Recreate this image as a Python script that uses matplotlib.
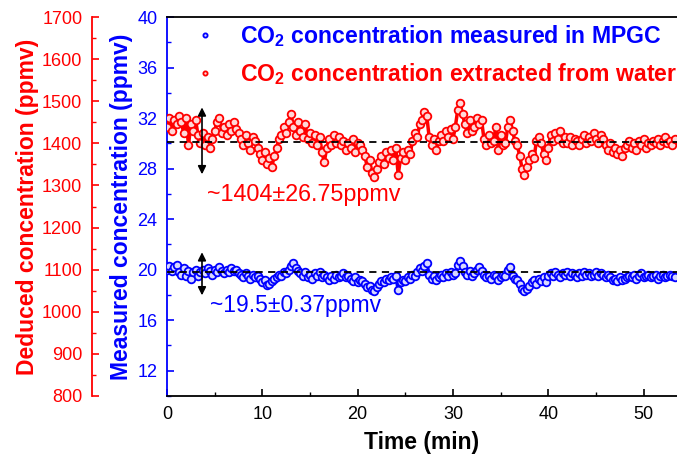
import numpy as np
import matplotlib
matplotlib.use("Agg")
import matplotlib.pyplot as plt
from matplotlib.ticker import MultipleLocator

plt.rcParams['font.family'] = ['Liberation Sans', 'DejaVu Sans']
plt.rcParams['mathtext.fontset'] = 'custom'
plt.rcParams['mathtext.rm'] = 'Liberation Sans'
plt.rcParams['mathtext.bf'] = 'Liberation Sans:bold'

# sampling step of the record (min)
step = 0.25

# CO2 measured in MPGC (ppmv)
measured = [
    20.0, 20.3, 19.9, 20.2, 20.4, 19.8,
    19.6, 20.1, 19.5, 19.9, 19.3, 19.8, 20.0, 19.5,
    19.8, 20.0, 19.7, 20.1, 19.9, 19.6, 20.0, 19.8, 20.2, 19.9, 19.7, 20.0, 19.8, 20.1, 19.9, 20.0, 19.7,
    19.6, 19.4, 19.7, 19.5, 19.3, 19.6, 19.4, 19.5,
    19.3, 19.0, 19.2, 18.8, 18.9, 19.1, 19.3,
    19.4, 19.6, 19.5, 19.8, 19.7, 20.0, 20.3, 20.5, 20.1, 19.9,
    19.7, 19.5, 19.8, 19.4, 19.6, 19.3, 19.7, 19.5, 19.8, 19.4, 19.6,
    19.4, 19.2, 19.5, 19.3, 19.6, 19.4, 19.5, 19.7, 19.4, 19.5,
    19.3, 19.1, 19.4, 19.0, 19.2, 19.1,
    18.9, 18.6, 18.7, 18.4, 18.3, 18.6,
    18.9, 19.1, 19.0, 19.3, 19.2, 19.4, 19.3, 19.5,
    18.4,
    19.0, 19.2, 19.1, 19.4, 19.3, 19.6, 19.5,
    19.8, 20.1, 19.9, 20.3, 20.5,
    19.6, 19.3, 19.5, 19.2, 19.4,
    19.6, 19.4, 19.7, 19.5, 19.8, 19.6, 19.7,
    20.4, 20.7, 20.3,
    19.8, 19.6, 19.9, 19.5, 19.7,
    20.0, 20.2, 19.9,
    19.6, 19.4, 19.5, 19.3, 19.6, 19.5, 19.2, 19.4, 19.6, 19.5,
    20.0, 20.2,
    19.5, 19.3, 19.2,
    18.9, 18.5, 18.3, 18.5, 18.7,
    19.0, 19.2, 18.9, 19.3, 19.1,
    19.4, 19.0, 19.5,
    19.7, 19.5, 19.8, 19.6, 19.4, 19.7, 19.6, 19.8, 19.5, 19.7, 19.6, 19.4, 19.7,
    19.5, 19.8, 19.6, 19.7, 19.5, 19.6, 19.8, 19.5, 19.7, 19.6, 19.4, 19.6,
    19.4, 19.2, 19.3, 19.1, 19.4, 19.2, 19.3, 19.4,
    19.5, 19.4, 19.6, 19.3, 19.5, 19.7, 19.4, 19.5, 19.6, 19.4,
    19.5, 19.6, 19.3, 19.5, 19.6, 19.4, 19.5, 19.6, 19.5, 19.4,
]

# CO2 deduced for the water sample (ppmv)
deduced = [
    1440, 1460, 1430, 1455, 1445, 1465,
    1450, 1425, 1460, 1395, 1445, 1430, 1455, 1420,
    1400, 1425, 1395, 1415, 1390, 1410,
    1430, 1450, 1460, 1425, 1440, 1420, 1445, 1430, 1450, 1435, 1425,
    1410, 1395, 1420, 1400, 1385, 1415, 1405,
    1390, 1375, 1360, 1380, 1350, 1365, 1345, 1370,
    1390, 1410, 1420, 1440, 1425, 1450,
    1470,
    1440, 1420, 1450, 1430, 1415, 1445,
    1410, 1425, 1400, 1420, 1395, 1415,
    1380, 1355, 1390,
    1410, 1395, 1420, 1400, 1415,
    1395, 1405, 1385, 1400, 1390, 1410, 1380, 1400, 1395, 1385,
    1370, 1345, 1360, 1330, 1320, 1340,
    1355, 1370, 1350, 1380, 1365, 1385, 1360, 1390,
    1325,
    1365, 1380, 1360, 1385, 1375,
    1405, 1425, 1415, 1445,
    1455, 1475, 1465,
    1415, 1395, 1410, 1385, 1405,
    1420, 1405, 1430, 1415, 1435, 1410, 1440,
    1480, 1495, 1470,
    1445, 1425, 1455, 1430, 1440,
    1460, 1445, 1455,
    1410, 1395, 1420, 1400, 1405,
    1440, 1385, 1420, 1395, 1400,
    1440, 1455, 1430,
    1405, 1395,
    1370, 1340, 1325, 1345, 1360,
    1375, 1365,
    1405, 1415, 1400,
    1375, 1360, 1390,
    1420, 1405, 1425, 1410, 1430, 1400, 1415,
    1400, 1415, 1395, 1410, 1405, 1395,
    1410, 1420, 1400, 1415, 1405, 1425, 1410, 1400, 1420, 1410,
    1395, 1385, 1400, 1380, 1390, 1375, 1385, 1370, 1390,
    1395, 1405, 1390, 1400, 1385, 1405, 1395, 1410, 1390, 1400, 1395,
    1405, 1400, 1410, 1395, 1405, 1415, 1400, 1405, 1395, 1410,
]

time = np.arange(len(measured)) * step

measured_ref = 19.8
deduced_ref = 1404
measured_text = "~19.5\u00b10.37ppmv"
deduced_text = "~1404\u00b126.75ppmv"

fig = plt.figure(figsize=(6.77, 4.61), dpi=100)
ax = fig.add_axes([0.2467, 0.141, 0.7533, 0.822])
ax2 = ax.twinx()

ax.plot(time, measured, '-', color='blue', lw=2.5, zorder=2)
l1, = ax.plot(time, measured, 'o', ms=5.5, mfc='#d8d8ff', mec='blue', mew=1.3, zorder=3,
              label=r'CO$_\mathbf{2}$ concentration measured in MPGC')
ax.axhline(measured_ref, color='black', ls='--', lw=1.3, dashes=(4, 3), zorder=5)

ax2.plot(time, deduced, '-', color='red', lw=2.5, zorder=2)
l2, = ax2.plot(time, deduced, 'o', ms=5.5, mfc='#ffd8d8', mec='red', mew=1.3, zorder=3,
               label=r'CO$_\mathbf{2}$ concentration extracted from water')
ax2.axhline(deduced_ref, color='black', ls='--', lw=1.3, dashes=(4, 3), zorder=5)

# error arrows
ax.annotate('', xy=(3.67, 21.6), xytext=(3.67, 17.75),
            arrowprops=dict(arrowstyle='<|-|>', color='black', lw=1.2, mutation_scale=12))
ax2.annotate('', xy=(3.67, 1492), xytext=(3.67, 1320),
             arrowprops=dict(arrowstyle='<|-|>', color='black', lw=1.2, mutation_scale=12))
ax.text(4.55, 17.2, measured_text, color='blue', fontsize=16.5, va='center', ha='left')
ax2.text(4.2, 1279, deduced_text, color='red', fontsize=16.8, va='center', ha='left')

ax.set_xlim(0, 53.5)
ax.set_ylim(10, 40)
ax2.set_ylim(800, 1700)

ax.xaxis.set_major_locator(MultipleLocator(10))
ax.xaxis.set_minor_locator(MultipleLocator(5))
ax.yaxis.set_minor_locator(MultipleLocator(2))
ax.set_yticks(np.arange(12, 41, 4))
ax2.yaxis.set_major_locator(MultipleLocator(100))
ax2.yaxis.set_minor_locator(MultipleLocator(50))

ax.spines['right'].set_visible(False)
ax.spines['left'].set_color('blue')
for s in ['top', 'bottom', 'left']:
    ax.spines[s].set_linewidth(1.3)
for s in ['top', 'bottom', 'right']:
    ax2.spines[s].set_visible(False)
ax2.spines['left'].set_visible(True)
ax2.spines['left'].set_position(('axes', -0.147))
ax2.spines['left'].set_color('red')
ax2.spines['left'].set_linewidth(1.3)
ax2.yaxis.tick_left()
ax2.yaxis.set_label_position('left')

ax.tick_params(axis='x', which='both', direction='in', top=False, labelsize=13, pad=7)
ax.tick_params(axis='x', which='major', length=5, width=1.2)
ax.tick_params(axis='x', which='minor', length=3, width=1.0)
ax.tick_params(axis='y', which='both', direction='in', colors='blue', labelsize=13, pad=7)
ax.tick_params(axis='y', which='major', length=5, width=1.2)
ax.tick_params(axis='y', which='minor', length=3, width=1.0)
ax2.tick_params(axis='y', which='both', direction='in', colors='red', labelsize=13, pad=7,
                left=True, right=False, labelleft=True, labelright=False)
ax2.tick_params(axis='y', which='major', length=5, width=1.2)
ax2.tick_params(axis='y', which='minor', length=3, width=1.0)

ax.set_xlabel('Time (min)', fontsize=16.5, fontweight='bold', labelpad=6)
ax.set_ylabel('Measured concentration (ppmv)', fontsize=16.5, fontweight='bold', color='blue', labelpad=3)
ax2.set_ylabel('Deduced concentration (ppmv)', fontsize=16.5, fontweight='bold', color='red', labelpad=2)

leg = ax2.legend(handles=[l1, l2], loc='upper left', bbox_to_anchor=(0.0, 1.04), frameon=False,
                 prop={'size': 16.6, 'weight': 'bold'}, labelcolor=['blue', 'red'],
                 markerscale=0.55, handletextpad=0.75, labelspacing=0.55, handlelength=1.5)

fig.savefig('out.png', dpi=100)
